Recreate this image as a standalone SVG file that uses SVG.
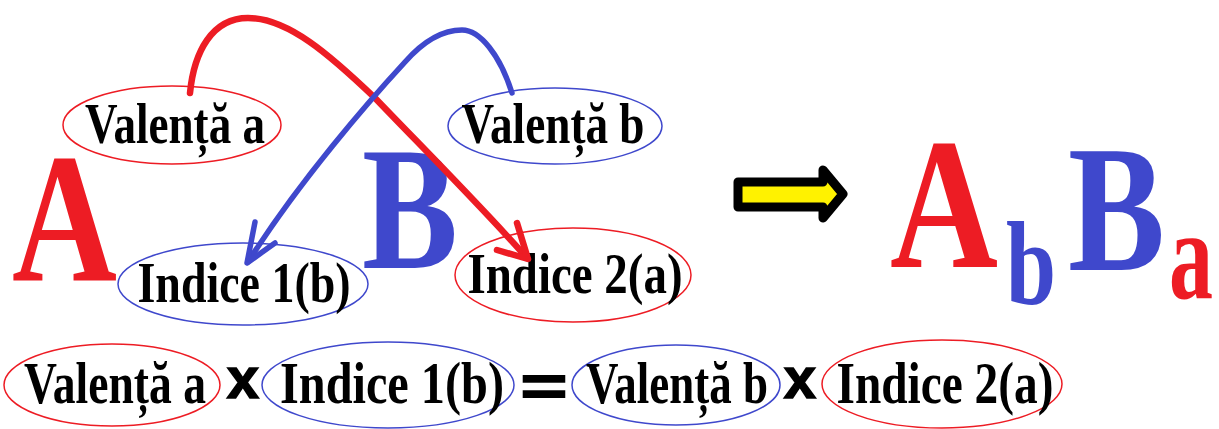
<svg xmlns="http://www.w3.org/2000/svg" width="1219" height="429" viewBox="0 0 1219 429">
<style>
.lbl{font-family:"Liberation Serif","Times New Roman",serif;font-weight:bold;font-size:57px;fill:#000;text-anchor:middle}
.lb2{font-size:60px}
.big{font-family:"Liberation Serif","Times New Roman",serif;font-weight:bold;text-anchor:start}
.r{fill:#ED1C24}
.b{fill:#3F48CC}
.er{fill:none;stroke:#ED1C24;stroke-width:1.5}
.eb{fill:none;stroke:#3F48CC;stroke-width:1.5}
.op{font-family:"Liberation Sans",Arial,sans-serif;font-weight:bold;fill:#000;stroke:#000;stroke-width:1.5;text-anchor:middle}
.ar{fill:none;stroke:#ED1C24;stroke-width:6.5;stroke-linecap:round;stroke-linejoin:round}
.ab{fill:none;stroke:#3F48CC;stroke-width:5.5;stroke-linecap:round;stroke-linejoin:round}
</style>
<rect width="1219" height="429" fill="#fff"/>

<g id="letterA"><text class="big r" x="12" y="280" font-size="184" textLength="105" lengthAdjust="spacingAndGlyphs">A</text></g>
<g id="letterB"><text class="big b" x="362" y="268" font-size="175" textLength="96" lengthAdjust="spacingAndGlyphs">B</text></g>

<g id="valenta-a">
<ellipse class="er" cx="172" cy="125" rx="109" ry="39"/>
<text class="lbl" x="175" y="143" textLength="180" lengthAdjust="spacingAndGlyphs">Valență a</text>
</g>
<g id="valenta-b">
<ellipse class="eb" cx="555" cy="126" rx="107" ry="38"/>
<text class="lbl" x="553" y="143" textLength="183" lengthAdjust="spacingAndGlyphs">Valență b</text>
</g>
<g id="indice-1">
<ellipse class="eb" cx="243" cy="284" rx="125" ry="41"/>
<text class="lbl" x="244" y="302" textLength="213" lengthAdjust="spacingAndGlyphs">Indice 1(b)</text>
</g>
<g id="indice-2">
<ellipse class="er" cx="573" cy="275" rx="118" ry="47"/>
<text class="lbl" x="575" y="293" textLength="215" lengthAdjust="spacingAndGlyphs">Indice 2(a)</text>
</g>

<g id="connectors">
<path class="ar" d="M190,93 C194,52 212,18 248,18 C288,18 330,55 375,98 C420,145 480,205 527,258"/>
<path class="ar" d="M517,223 L528,259 L497,250"/>
<path class="ab" d="M512,93 C500,55 480,30 462,30 C440,30 420,45 405,62 C370,100 300,180 248,262"/>
<path class="ab" d="M255,222 L247,263 L275,243"/>
</g>

<g id="yield-arrow">
<polygon points="738,182 823,182 823,170 843,194 823,218 823,207 738,207" fill="#FFF200" stroke="#000" stroke-width="9" stroke-linejoin="round"/>
</g>

<g id="formula">
<text class="big r" x="890" y="267" font-size="187" textLength="108" lengthAdjust="spacingAndGlyphs">A</text>
<text class="big b" x="1006" y="303" font-size="119" textLength="50" lengthAdjust="spacingAndGlyphs">b</text>
<text class="big b" x="1068" y="270" font-size="181" textLength="97" lengthAdjust="spacingAndGlyphs">B</text>
<text class="big r" x="1169" y="298" font-size="128" textLength="44" lengthAdjust="spacingAndGlyphs">a</text>
</g>

<g id="eq-valenta-a">
<ellipse class="er" cx="112" cy="385" rx="108" ry="41"/>
<text class="lbl lb2" x="115" y="403" textLength="182" lengthAdjust="spacingAndGlyphs">Valență a</text>
</g>
<g id="eq-times-1"><text class="op" x="243" y="398" font-size="58">x</text></g>
<g id="eq-indice-1">
<ellipse class="eb" cx="388" cy="385" rx="126" ry="43"/>
<text class="lbl lb2" x="392" y="403" textLength="224" lengthAdjust="spacingAndGlyphs">Indice 1(b)</text>
</g>
<g id="eq-equals"><text x="544" y="408" font-family="DejaVu Sans, sans-serif" font-weight="bold" font-size="68" text-anchor="middle">=</text></g>
<g id="eq-valenta-b">
<ellipse class="eb" cx="676" cy="385" rx="104" ry="40"/>
<text class="lbl lb2" x="677" y="403" textLength="182" lengthAdjust="spacingAndGlyphs">Valență b</text>
</g>
<g id="eq-times-2"><text class="op" x="800" y="398" font-size="58">x</text></g>
<g id="eq-indice-2">
<ellipse class="er" cx="942" cy="384" rx="120" ry="44"/>
<text class="lbl lb2" x="945" y="403" textLength="217" lengthAdjust="spacingAndGlyphs">Indice 2(a)</text>
</g>
</svg>
